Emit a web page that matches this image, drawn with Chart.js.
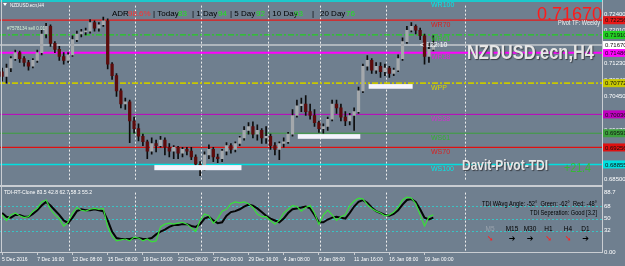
<!DOCTYPE html>
<html>
<head>
<meta charset="utf-8">
<script src="https://cdn.jsdelivr.net/npm/chart.js@4.4.0/dist/chart.umd.min.js"></script>
<style>
html, body { margin: 0; padding: 0; background: #6f7f8f; }
#wrap { position: relative; width: 625px; height: 266px; overflow: hidden; background: #6f7f8f; }
#main { position: absolute; left: 0; top: 0; }
#tdi { position: absolute; left: 0; top: 187px; }
</style>
</head>
<body>
<div id="wrap">
  <canvas id="main" width="625" height="187"></canvas>
  <canvas id="tdi" width="625" height="79"></canvas>
</div>
<script>
// NZDUSD H4 candles (two H4 bars merged per candle)
const opens = [0.7104,0.7093,0.7113,0.7135,0.7149,0.7135,0.7126,0.7117,0.7131,0.7149,
  0.7193,0.7211,0.7171,0.7157,0.7140,0.7131,0.7144,0.7180,0.7193,0.7198,
  0.7200,0.7220,0.7207,0.7215,0.7224,0.7122,0.7095,0.7059,0.7028,0.7033,
  0.6988,0.6970,0.6952,0.6939,0.6917,0.6935,0.6930,0.6943,0.6926,0.6917,
  0.6926,0.6912,0.6921,0.6917,0.6903,0.6886,0.6877,0.6908,0.6921,0.6903,
  0.6899,0.6917,0.6930,0.6921,0.6935,0.6948,0.6966,0.6975,0.6957,0.6966,
  0.6948,0.6952,0.6930,0.6921,0.6935,0.6939,0.6957,0.7001,0.7024,0.7028,
  0.7010,0.7001,0.6984,0.6970,0.6975,0.6992,0.7028,0.7019,0.6997,0.6988,
  0.7001,0.7010,0.7059,0.7117,0.7131,0.7108,0.7117,0.7104,0.7113,0.7100,
  0.7108,0.7135,0.7175,0.7202,0.7211,0.7202,0.7189,0.7140,0.7157];
const highs = [0.7113,0.7122,0.7140,0.7155,0.7153,0.7140,0.7131,0.7135,0.7155,0.7202,
  0.7218,0.7215,0.7175,0.7164,0.7149,0.7149,0.7189,0.7200,0.7204,0.7207,
  0.7227,0.7224,0.7220,0.7233,0.7229,0.7126,0.7100,0.7064,0.7042,0.7037,
  0.6997,0.6981,0.6957,0.6943,0.6948,0.6943,0.6952,0.6948,0.6935,0.6930,
  0.6928,0.6926,0.6926,0.6926,0.6908,0.6892,0.6915,0.6932,0.6926,0.6910,
  0.6921,0.6937,0.6935,0.6939,0.6952,0.6975,0.6984,0.6986,0.6979,0.6970,
  0.6975,0.6957,0.6937,0.6939,0.6948,0.6961,0.7015,0.7037,0.7042,0.7048,
  0.7028,0.7015,0.6988,0.6981,0.6997,0.7037,0.7037,0.7028,0.7010,0.7006,
  0.7019,0.7068,0.7122,0.7142,0.7135,0.7126,0.7126,0.7122,0.7117,0.7113,
  0.7144,0.7184,0.7211,0.7220,0.7215,0.7207,0.7193,0.7171,0.7189];
const lows = [0.7082,0.7077,0.7104,0.7131,0.7126,0.7117,0.7108,0.7113,0.7126,0.7144,
  0.7184,0.7164,0.7149,0.7131,0.7122,0.7126,0.7140,0.7175,0.7186,0.7191,
  0.7195,0.7200,0.7200,0.7211,0.7111,0.7086,0.7046,0.7019,0.7015,0.6937,
  0.6959,0.6941,0.6930,0.6899,0.6910,0.6915,0.6926,0.6908,0.6903,0.6899,
  0.6899,0.6903,0.6908,0.6897,0.6877,0.6859,0.6872,0.6899,0.6892,0.6890,
  0.6892,0.6908,0.6912,0.6915,0.6930,0.6943,0.6957,0.6948,0.6943,0.6935,
  0.6935,0.6921,0.6908,0.6897,0.6926,0.6935,0.6952,0.6997,0.7010,0.7001,
  0.6992,0.6975,0.6961,0.6959,0.6966,0.6988,0.7006,0.6988,0.6977,0.6979,
  0.6966,0.7006,0.7055,0.7108,0.7100,0.7100,0.7091,0.7095,0.7091,0.7095,
  0.7104,0.7131,0.7171,0.7198,0.7193,0.7180,0.7122,0.7126,0.7153];
const closes = [0.7093,0.7113,0.7135,0.7149,0.7135,0.7126,0.7117,0.7131,0.7149,0.7193,
  0.7211,0.7171,0.7157,0.7140,0.7131,0.7144,0.7180,0.7193,0.7198,0.7200,
  0.7220,0.7207,0.7215,0.7224,0.7122,0.7095,0.7059,0.7028,0.7033,0.6988,
  0.6970,0.6952,0.6939,0.6917,0.6935,0.6930,0.6943,0.6926,0.6917,0.6926,
  0.6912,0.6921,0.6917,0.6903,0.6886,0.6877,0.6908,0.6921,0.6903,0.6899,
  0.6917,0.6930,0.6921,0.6935,0.6948,0.6966,0.6975,0.6957,0.6966,0.6948,
  0.6952,0.6930,0.6921,0.6935,0.6939,0.6957,0.7001,0.7024,0.7028,0.7010,
  0.7001,0.6984,0.6970,0.6975,0.6992,0.7028,0.7019,0.6997,0.6988,0.7001,
  0.7010,0.7059,0.7117,0.7131,0.7108,0.7117,0.7104,0.7113,0.7100,0.7108,
  0.7135,0.7175,0.7202,0.7211,0.7202,0.7189,0.7140,0.7157,0.7167];

// TDI-RT-Clone: fast (green) and slow (black) lines
const tdiFast = [55.4,47.1,55.4,58.2,54.1,51.3,52.7,61.0,65.1,74.8,
  77.6,63.8,55.4,49.9,38.8,44.4,58.2,66.5,62.4,61.0,
  63.8,65.1,63.8,65.1,37.4,23.6,16.6,18.0,19.4,16.6,
  22.2,20.8,16.6,19.4,15.2,16.6,37.4,41.6,43.0,41.6,
  43.0,44.4,41.6,36.0,30.5,47.1,56.8,54.1,43.0,49.9,
  61.0,63.8,72.1,74.8,73.5,74.8,72.1,66.5,56.8,52.7,
  52.7,47.1,41.6,47.1,58.2,63.8,69.3,67.9,61.0,66.5,
  69.3,58.2,41.6,55.4,62.4,55.4,47.1,52.7,55.4,69.3,
  76.2,80.4,79.0,70.7,65.1,61.0,58.2,54.1,55.4,59.6,
  66.5,77.6,81.8,80.4,72.1,55.4,38.8,52.7,55.4];
const tdiSlow = [58.2,52.7,51.3,55.4,55.4,52.7,52.7,56.8,62.4,69.3,
  74.8,69.3,62.4,55.4,47.1,43.0,51.3,61.0,63.8,62.4,
  62.4,63.8,62.4,61.0,47.1,30.5,20.8,19.4,19.4,19.4,
  20.8,20.8,19.4,19.4,20.8,26.3,30.5,33.3,37.4,40.2,
  40.2,41.6,41.6,38.8,37.4,41.6,49.9,52.7,47.1,43.0,
  44.4,54.1,59.6,61.0,63.8,67.9,70.7,69.3,65.1,59.6,
  54.1,49.9,47.1,44.4,49.9,58.2,63.8,65.1,66.5,67.9,
  65.1,55.4,44.4,44.4,48.5,51.3,52.7,51.3,49.9,58.2,
  67.9,74.8,77.6,73.5,66.5,61.0,58.2,55.4,54.1,56.8,
  62.4,70.7,77.6,79.0,74.8,63.8,51.3,48.5,51.3];
const tdiTicks = [0, 32, 50, 68, 88.7];
const tdiLevels = [32, 50, 68];

// time axis
const xTickIdx = [0, 8, 16, 24, 32, 40, 48, 56, 64, 72, 80, 88, 96];
const xLabels = ['5 Dec 2016', '7 Dec 16:00', '12 Dec 08:00', '15 Dec 08:00', '19 Dec 16:00',
  '22 Dec 08:00', '27 Dec 00:00', '29 Dec 16:00', '4 Jan 08:00', '9 Jan 08:00',
  '11 Jan 16:00', '16 Jan 08:00', '19 Jan 00:00'];
const weekSeps = [15.2, 30.3, 45.2, 60.4, 72.2, 87.3, 105.3];

// price axis
const yTicks = [0.72400, 0.72010, 0.71620, 0.71230, 0.70840, 0.70450, 0.70060, 0.69670, 0.69280, 0.68890, 0.68500];

// weekly pivots
const pivotNames = ['WR100', 'WR70', 'WR61', 'WR38', 'WPP', 'WS38', 'WS61', 'WS70', 'WS100'];
const pivotValues = [0.72710, 0.72256, 0.71910, 0.71486, 0.70772, 0.70036, 0.69591, 0.69256, 0.68855];

// drawn support zones
const zoneStart = [34.6, 67.2, 83.3];
const zoneEnd = [54.4, 81.4, 93.3];
const zoneHigh = [0.6884, 0.6957, 0.7075];
const zoneLow = [0.6872, 0.6946, 0.7064];

// ADR panel
const adrTexts = ['ADR', '98.6%', '| Today', '83', '| 1 Day', '94', '| 5 Day', '92', '| 10 Day', '93', '|', '20 Day', '76'];
const adrX = [112, 128, 153, 178, 192, 218, 230, 256, 268, 294, 312, 320, 346];

// TDI timeframe signals
const tfNames = ['M5', 'M15', 'M30', 'H1', 'H4', 'D1'];
const tfDown = [true, false, false, true, true, false];

const xMin = -0.473, xMax = 136.33;
const frame = '#c9cdd2';
const SANS = '"Liberation Sans", Arial, Helvetica, sans-serif';
const pivotStyle = {
  WR100: {c: '#00e0e0', w: 1.5, d: [], t: '#00e8e8'},
  WR70: {c: '#e81818', w: 1.3, d: [], t: '#d82020'},
  WR61: {c: '#22d022', w: 1.2, d: [6, 2, 2, 2], t: '#2cc82c'},
  WR38: {c: '#ff00ff', w: 2, d: [], t: '#e020e0'},
  WPP: {c: '#c8c800', w: 1.6, d: [6, 2, 2, 2], t: '#d4d400'},
  WS38: {c: '#c000c0', w: 1, d: [], t: '#d030d0'},
  WS61: {c: '#3ca03c', w: 1, d: [], t: '#34b034'},
  WS70: {c: '#e01010', w: 1.3, d: [], t: '#d82020'},
  WS100: {c: '#00e0e0', w: 1.5, d: [], t: '#00e8e8'}
};

const bodyData = opens.map((o, i) => ({x: i, y: [o, closes[i]]}));
const wickData = lows.map((l, i) => ({x: i, y: [l, highs[i]]}));
const bodyColors = opens.map((o, i) => closes[i] >= o ? '#a4a8ac' : '#5c0c0c');

function line(ctx, x1, y1, x2, y2) {
  ctx.beginPath(); ctx.moveTo(x1, y1); ctx.lineTo(x2, y2); ctx.stroke();
}

// draw text squeezed to a given width (MT4 fonts are narrower)
function fitText(ctx, text, x, y, w) {
  const m = ctx.measureText(text).width;
  ctx.save();
  ctx.translate(x, y);
  ctx.scale(w / m, 1);
  ctx.textAlign = 'left';
  ctx.fillText(text, 0, 0);
  ctx.restore();
}

const mainDeco = {
  id: 'mainDeco',
  beforeDatasetsDraw(chart) {
    const {ctx, chartArea: a, scales: {x, y}} = chart;
    ctx.save();
    ctx.strokeStyle = '#eeeeee';
    ctx.lineWidth = 1;
    ctx.setLineDash([2, 2]);
    weekSeps.forEach(v => {
      const px = Math.round(x.getPixelForValue(v)) + 0.5;
      line(ctx, px, a.top, px, a.bottom);
    });
    pivotNames.forEach((n, k) => {
      const s = pivotStyle[n];
      const py = y.getPixelForValue(pivotValues[k]);
      ctx.strokeStyle = s.c; ctx.lineWidth = s.w; ctx.setLineDash(s.d);
      line(ctx, a.left, py, a.right, py);
    });
    // bid line
    const bid = closes[closes.length - 1];
    ctx.setLineDash([]);
    ctx.strokeStyle = '#c4c8cc'; ctx.lineWidth = 1.6;
    const by = y.getPixelForValue(bid);
    line(ctx, a.left, by, a.right, by);
    ctx.restore();
  },
  afterDatasetsDraw(chart) {
    const {ctx, chartArea: a, scales: {x, y}} = chart;
    ctx.save();
    // support zones
    ctx.fillStyle = '#f4f4fc';
    zoneStart.forEach((s, k) => {
      const x1 = x.getPixelForValue(s), x2 = x.getPixelForValue(zoneEnd[k]);
      const y1 = y.getPixelForValue(zoneHigh[k]), y2 = y.getPixelForValue(zoneLow[k]);
      ctx.fillRect(x1, y1, x2 - x1, y2 - y1);
    });
    // pivot labels
    ctx.textBaseline = 'middle';
    ctx.font = '7px ' + SANS;
    pivotNames.forEach((n, k) => {
      ctx.fillStyle = pivotStyle[n].t;
      ctx.fillText(n, 431, y.getPixelForValue(pivotValues[k]) + 4.5);
    });
    // frame
    ctx.strokeStyle = frame; ctx.lineWidth = 1;
    line(ctx, 1.5, 0, 1.5, 186);
    line(ctx, a.right + 0.5, 0, a.right + 0.5, 187);
    ctx.lineWidth = 2;
    line(ctx, 0, 186, a.right, 186);
    // price boxes on the axis
    const boxes = pivotValues.map((v, k) => [v, pivotStyle[pivotNames[k]].c]);
    boxes.push([closes[closes.length - 1], '#ffffff']);
    ctx.font = '6px ' + SANS;
    boxes.forEach(([v, c]) => {
      const py = y.getPixelForValue(v);
      if (py < 2 || py > a.bottom - 2) return;
      ctx.fillStyle = c;
      ctx.fillRect(a.right + 1, py - 4, 625 - a.right, 8);
      ctx.fillStyle = '#101010';
      ctx.fillText(v.toFixed(5), a.right + 3, py + 0.5);
    });
    // title
    ctx.fillStyle = '#ffffff';
    ctx.beginPath(); ctx.moveTo(3, 3); ctx.lineTo(7, 3); ctx.lineTo(5, 6); ctx.closePath(); ctx.fill();
    ctx.font = '6px ' + SANS;
    fitText(ctx, 'NZDUSD.ecn,H4', 10, 5, 34);
    // ADR line
    ctx.font = '8px ' + SANS;
    adrTexts.forEach((t, k) => {
      ctx.fillStyle = /^\d/.test(t) && t !== '20 Day' ? (t.includes('%') ? '#ff3030' : '#22e022') : '#000000';
      ctx.fillText(t, adrX[k], 14);
    });
    // order line text
    ctx.fillStyle = '#d6f2d6';
    ctx.font = '5.5px ' + SANS;
    fitText(ctx, '#7578134 sell 0.01', 7, 28.5, 38);
    // countdown
    ctx.fillStyle = '#ffffff';
    ctx.font = '7px ' + SANS;
    ctx.fillText('< 122:10', 420, 45);
    // big price and pivot tf
    ctx.textBaseline = 'alphabetic';
    ctx.fillStyle = '#ff1a1a';
    ctx.font = '18px ' + SANS;
    ctx.fillText(closes[closes.length - 1].toFixed(5), 537, 20);
    ctx.fillStyle = '#f0f0f0';
    ctx.font = '6.5px ' + SANS;
    fitText(ctx, 'Pivot TF: Weekly', 558, 24.5, 42);
    // watermark texts
    ctx.shadowColor = '#3a3f46'; ctx.shadowOffsetX = 1; ctx.shadowOffsetY = 1; ctx.shadowBlur = 1;
    ctx.fillStyle = '#e6e6e6';
    ctx.font = 'bold 20px ' + SANS;
    fitText(ctx, 'NZDUSD.ecn,H4', 467, 58.5, 127);
    ctx.font = 'bold 15px ' + SANS;
    fitText(ctx, 'Davit-Pivot-TDI', 462, 170, 86);
    ctx.shadowColor = 'transparent';
    ctx.fillStyle = '#35b835';
    ctx.font = '13px ' + SANS;
    fitText(ctx, '+21.4', 564, 171.5, 27);
    ctx.restore();
  }
};

const tdiDeco = {
  id: 'tdiDeco',
  beforeDatasetsDraw(chart) {
    const {ctx, chartArea: a, scales: {x, y}} = chart;
    ctx.save();
    ctx.lineWidth = 1;
    ctx.setLineDash([2, 2]);
    ctx.strokeStyle = '#eeeeee';
    weekSeps.forEach(v => {
      const px = Math.round(x.getPixelForValue(v)) + 0.5;
      line(ctx, px, a.top, px, a.bottom);
    });
    ctx.strokeStyle = '#38c4c4';
    tdiLevels.forEach(v => {
      const py = Math.round(y.getPixelForValue(v)) + 0.5;
      line(ctx, a.left, py, a.right, py);
    });
    ctx.restore();
  },
  afterDraw(chart) {
    const {ctx, chartArea: a} = chart;
    ctx.save();
    ctx.strokeStyle = frame; ctx.lineWidth = 1;
    line(ctx, 1.5, 0, 1.5, a.bottom);
    line(ctx, a.right + 0.5, 0, a.right + 0.5, a.bottom + 1);
    ctx.textBaseline = 'middle';
    ctx.fillStyle = '#ffffff';
    ctx.font = '6px ' + SANS;
    fitText(ctx, 'TDI-RT-Clone 83.5 42.8 62.7 58.3 55.2', 4, 5, 88);
    ctx.fillStyle = '#000000';
    ctx.font = '6.5px ' + SANS;
    fitText(ctx, 'TDI WAvg Angle: -52°  Green: -62°  Red: -48°', 482, 17, 115);
    fitText(ctx, 'TDI Seperation: Good [3.2]', 530, 26, 67);
    ctx.textAlign = 'center';
    const tfX = [490, 512, 530, 548.5, 568, 585.5];
    ctx.font = '6.5px ' + SANS;
    tfNames.forEach((n, k) => {
      ctx.fillStyle = k === 0 ? '#9aa3ad' : '#000000';
      ctx.fillText(n, tfX[k], 42);
    });
    ctx.font = 'bold 8px "DejaVu Sans", sans-serif';
    tfDown.forEach((d, k) => {
      ctx.fillStyle = d ? '#ff2020' : '#000000';
      ctx.fillText(d ? '\u2798' : '\u2794', tfX[k], 52);
    });
    ctx.restore();
  }
};

new Chart(document.getElementById('main'), {
  type: 'bar',
  data: {
    datasets: [
      {data: bodyData, backgroundColor: bodyColors, barThickness: 2.6, minBarLength: 1, grouped: false, borderWidth: 0},
      {data: wickData, backgroundColor: '#0c0c0c', barThickness: 1, grouped: false, borderWidth: 0}
    ]
  },
  options: {
    responsive: false,
    animation: false,
    layout: {padding: {bottom: 1}},
    plugins: {legend: {display: false}, tooltip: {enabled: false}},
    scales: {
      x: {type: 'linear', display: false, min: xMin, max: xMax, offset: false},
      y: {
        position: 'right', min: 0.684555, max: 0.726006, beginAtZero: false,
        afterFit(s) { s.width = 23; },
        afterBuildTicks(s) { s.ticks = yTicks.map(v => ({value: v})); },
        ticks: {color: '#ffffff', font: {family: SANS, size: 6}, padding: 2, callback: v => v.toFixed(5)},
        grid: {display: false, drawTicks: false},
        border: {display: false}
      }
    }
  },
  plugins: [mainDeco]
});

new Chart(document.getElementById('tdi'), {
  type: 'line',
  data: {
    datasets: [
      {data: tdiFast.map((v, i) => ({x: i, y: v})), borderColor: '#38e038', borderWidth: 1.2, pointRadius: 0, tension: 0},
      {data: tdiSlow.map((v, i) => ({x: i, y: v})), borderColor: '#050505', borderWidth: 2, pointRadius: 0, tension: 0}
    ]
  },
  options: {
    responsive: false,
    animation: false,
    layout: {padding: {top: 1}},
    plugins: {legend: {display: false}, tooltip: {enabled: false}},
    scales: {
      x: {
        type: 'linear', min: xMin, max: xMax, offset: false,
        afterBuildTicks(s) { s.ticks = xTickIdx.map(v => ({value: v})); },
        afterFit(s) { s.height = 14; },
        ticks: {autoSkip: false, maxRotation: 0, align: 'start', color: '#ffffff',
          font: {family: SANS, size: 5}, padding: 2,
          callback: (v, i) => xLabels[i]},
        grid: {drawOnChartArea: false, tickLength: 3, color: frame},
        border: {color: frame}
      },
      y: {
        position: 'right', min: 0, max: 88.7,
        afterFit(s) { s.width = 23; },
        afterBuildTicks(s) { s.ticks = tdiTicks.map(v => ({value: v})); },
        ticks: {color: '#ffffff', font: {family: SANS, size: 6}, padding: 2,
          callback: v => v === 0 ? '0.00' : String(v)},
        grid: {display: false, drawTicks: false},
        border: {display: false}
      }
    }
  },
  plugins: [tdiDeco]
});
</script>
</body>
</html>
